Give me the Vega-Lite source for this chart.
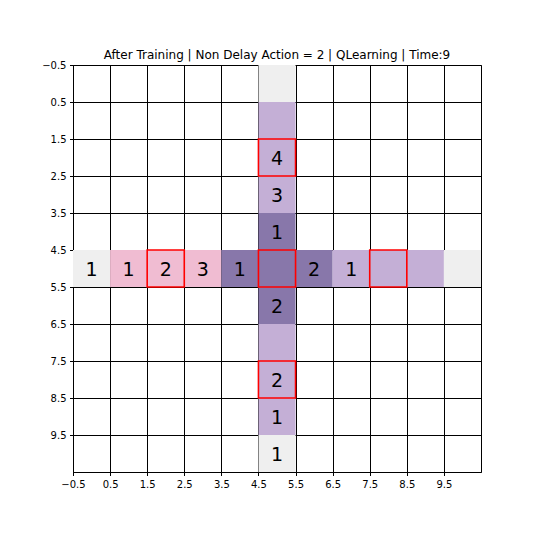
{
  "$schema": "https://vega.github.io/schema/vega-lite/v6.json",
  "autosize": {"type": "none"},
  "padding": {"left": 73, "top": 65, "right": 59, "bottom": 68},
  "width": 408,
  "height": 407,
  "background": "white",
  "title": {
    "text": "After Training | Non Delay Action = 2 | QLearning | Time:9",
    "font": "DejaVu Sans",
    "fontSize": 12,
    "fontWeight": "normal",
    "color": "black",
    "anchor": "middle",
    "frame": "group",
    "offset": -2
  },
  "config": {
    "view": {"stroke": "black", "strokeWidth": 1},
    "axis": {
      "labelFont": "DejaVu Sans",
      "labelFontSize": 10,
      "labelColor": "black",
      "domainColor": "black",
      "tickColor": "black",
      "tickSize": 3.5,
      "labelPadding": 3.5,
      "grid": true,
      "gridColor": "black",
      "gridOpacity": 1,
      "gridWidth": 1,
      "title": null,
      "labelFlush": false,
      "labelOverlap": false
    }
  },
  "data": {
    "values": [
      {"x": 0, "y": 5, "kind": "grey", "label": "1", "red": false},
      {"x": 1, "y": 5, "kind": "pink", "label": "1", "red": false},
      {"x": 2, "y": 5, "kind": "pink", "label": "2", "red": true},
      {"x": 3, "y": 5, "kind": "pink", "label": "3", "red": false},
      {"x": 4, "y": 5, "kind": "dark", "label": "1", "red": false},
      {"x": 5, "y": 5, "kind": "dark", "label": "", "red": true},
      {"x": 6, "y": 5, "kind": "dark", "label": "2", "red": false},
      {"x": 7, "y": 5, "kind": "light", "label": "1", "red": false},
      {"x": 8, "y": 5, "kind": "light", "label": "", "red": true},
      {"x": 9, "y": 5, "kind": "light", "label": "", "red": false},
      {"x": 10, "y": 5, "kind": "grey", "label": "", "red": false},
      {"x": 5, "y": 0, "kind": "grey", "label": "", "red": false},
      {"x": 5, "y": 1, "kind": "light", "label": "", "red": false},
      {"x": 5, "y": 2, "kind": "light", "label": "4", "red": true},
      {"x": 5, "y": 3, "kind": "light", "label": "3", "red": false},
      {"x": 5, "y": 4, "kind": "dark", "label": "1", "red": false},
      {"x": 5, "y": 6, "kind": "dark", "label": "2", "red": false},
      {"x": 5, "y": 7, "kind": "light", "label": "", "red": false},
      {"x": 5, "y": 8, "kind": "light", "label": "2", "red": true},
      {"x": 5, "y": 9, "kind": "light", "label": "1", "red": false},
      {"x": 5, "y": 10, "kind": "grey", "label": "1", "red": false}
    ]
  },
  "encoding": {
    "x": {
      "field": "x",
      "type": "quantitative",
      "scale": {"domain": [-0.5, 10.5], "nice": false, "zero": false},
      "axis": {"values": [-0.5, 0.5, 1.5, 2.5, 3.5, 4.5, 5.5, 6.5, 7.5, 8.5, 9.5], "format": ".1f"}
    },
    "y": {
      "field": "y",
      "type": "quantitative",
      "scale": {"domain": [-0.5, 10.5], "nice": false, "zero": false, "reverse": true},
      "axis": {"values": [-0.5, 0.5, 1.5, 2.5, 3.5, 4.5, 5.5, 6.5, 7.5, 8.5, 9.5], "format": ".1f"}
    }
  },
  "layer": [
    {
      "mark": {"type": "rect", "width": 37.1, "height": 37},
      "encoding": {
        "color": {
          "field": "kind",
          "type": "nominal",
          "scale": {"domain": ["grey", "pink", "light", "dark"], "range": ["#efefef", "#f0bcd2", "#c4afd6", "#8877aa"]},
          "legend": null
        }
      }
    },
    {
      "transform": [{"filter": "datum.red"}],
      "mark": {"type": "rect", "width": 37.1, "height": 37, "fill": null, "fillOpacity": 0, "stroke": "#ff0000", "strokeWidth": 1.6}
    },
    {
      "transform": [{"filter": "datum.label != ''"}],
      "mark": {"type": "text", "font": "DejaVu Sans", "fontSize": 19, "color": "black", "baseline": "middle", "align": "center", "dy": 1},
      "encoding": {"text": {"field": "label"}}
    }
  ]
}
